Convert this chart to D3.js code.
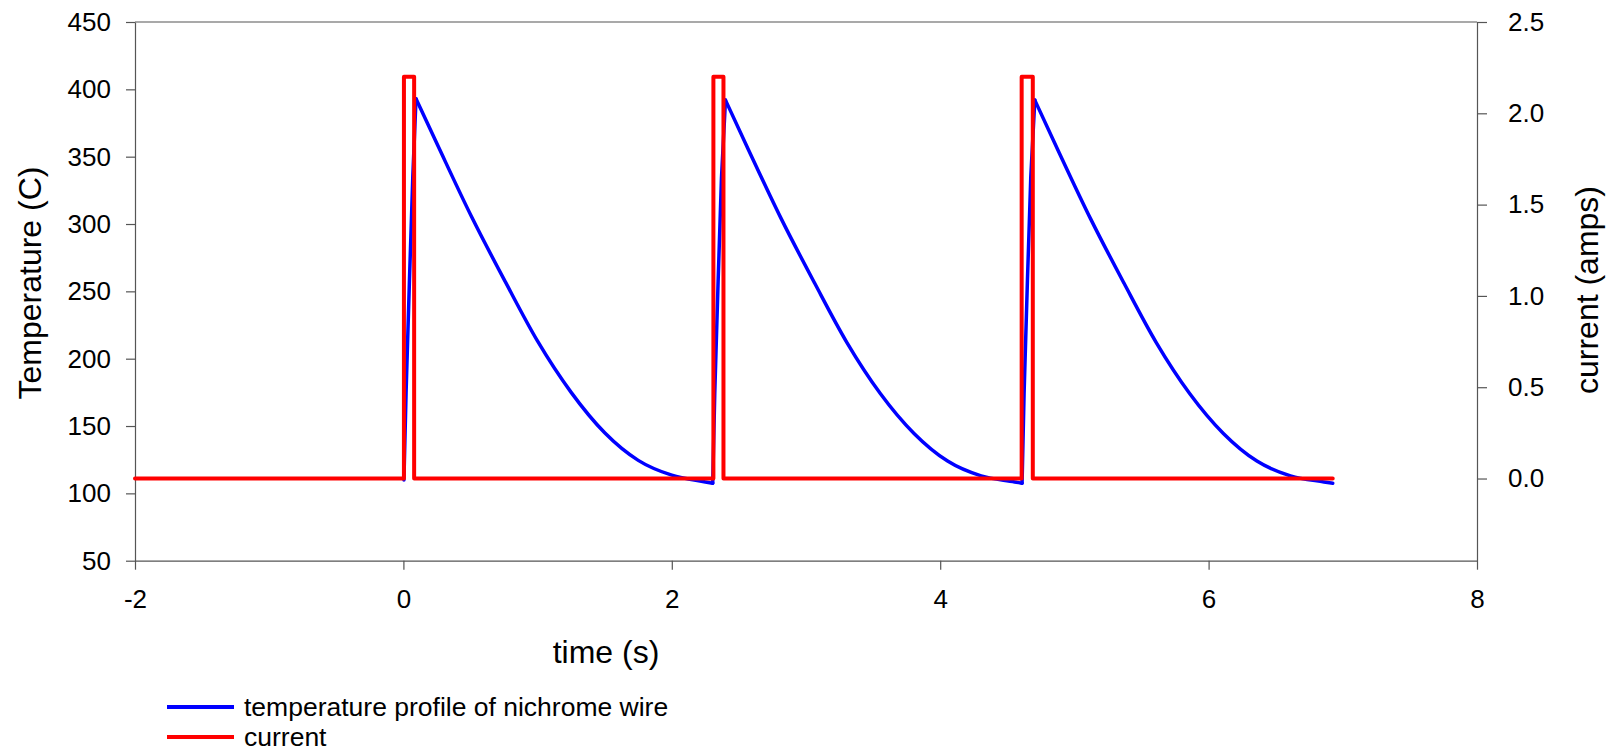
<html>
  <head>
    <meta charset="utf-8">
    <script src="https://d3js.org/d3.v7.min.js"></script>
    <style>
body {
  margin: 0;
  background: #fff;
  font-family: "Liberation Sans", Arial, sans-serif;
}
.axis path, .axis line {
  stroke: #555;
  stroke-width: 1.2;
}
.axis text {
  font-size: 26px;
  fill: #000;
  font-family: "Liberation Sans", Arial, sans-serif;
}
.title {
  font-size: 32px;
}
.legend text {
  font-size: 26.5px;
}
.line {
  fill: none;
  stroke-linejoin: round;
  stroke-linecap: round;
}
    </style>
  </head>
  <body>
    <div id="chart"></div>
<script>
// temperature of the wire (C) against time (s)
var tempTime = [
  0.004, 0.02, 0.045, 0.07, 0.094, 0.26, 0.51, 0.76, 1.00, 1.25, 1.50, 1.75, 2.00, 2.25, 2.305,
  2.32, 2.345, 2.37, 2.40, 2.565, 2.815, 3.065, 3.305, 3.555, 3.805, 4.055, 4.305, 4.555, 4.61,
  4.625, 4.65, 4.675, 4.705, 4.87, 5.12, 5.37, 5.61, 5.86, 6.11, 6.36, 6.61, 6.86, 6.925
];
var tempValue = [
  110, 175, 258, 335, 393, 357.5, 305, 257, 213, 175, 145, 124.5, 113.5, 108.5, 107.5,
  174, 257, 334, 392, 356.5, 304, 256, 212, 174, 144.5, 124, 113, 108.5, 107.5,
  174, 258, 335, 392, 356.5, 304, 256, 212, 174, 144.5, 124, 113, 108.5, 107.5
];
// current pulses (amps)
var currentTime = [-2, 0.004, 0.004, 0.08, 0.08, 2.31, 2.31, 2.385, 2.385, 4.607, 4.607, 4.69, 4.69, 6.925];
var currentValue = [0, 0, 2.2, 2.2, 0, 0, 2.2, 2.2, 0, 0, 2.2, 2.2, 0, 0];

var xTicks = [-2, 0, 2, 4, 6, 8];
var tempTicks = [50, 100, 150, 200, 250, 300, 350, 400, 450];
var currentTicks = [0, 0.5, 1.0, 1.5, 2.0, 2.5];

var width = 1611;
var height = 753;
var plotLeft = 135, plotRight = 1477, plotTop = 22, plotBottom = 560.7;

var tempData = tempTime.map((t, i) => ({t: t, v: tempValue[i]}));
var currentData = currentTime.map((t, i) => ({t: t, v: currentValue[i]}));

// split the temperature trace into heating (rise) and cooling (decay) pieces
var pieces = [];
var start = 0;
for (var i = 1; i < tempData.length; i++) {
  var last = i === tempData.length - 1;
  var turn = !last && ((tempData[i].v - tempData[i - 1].v) * (tempData[i + 1].v - tempData[i].v) < 0);
  if (turn || last) {
    var seg = tempData.slice(start, i + 1);
    pieces.push({rise: seg[seg.length - 1].v > seg[0].v, values: seg});
    start = i;
  }
}

/* Scales */
var xScale = d3.scaleLinear().domain([-2, 8]).range([plotLeft, plotRight]);
var yTemp = d3.scaleLinear().domain([50, 450]).range([plotBottom, plotTop]);
var yCurrent = d3.scaleLinear().domain([-0.45, 2.5]).range([plotBottom, plotTop]);

var svg = d3.select("#chart").append("svg")
  .attr("width", width)
  .attr("height", height);

/* frame top */
svg.append("line")
  .attr("x1", plotLeft).attr("x2", plotRight)
  .attr("y1", plotTop).attr("y2", plotTop)
  .attr("stroke", "#555")
  .attr("stroke-width", 1.2);

/* Axes */
svg.append("g")
  .attr("class", "x axis")
  .attr("transform", `translate(0, ${plotBottom})`)
  .call(d3.axisBottom(xScale).tickValues(xTicks).tickFormat(d => String(d))
    .tickSize(9).tickSizeOuter(0).tickPadding(20));

svg.append("g")
  .attr("class", "y axis")
  .attr("transform", `translate(${plotLeft}, 0)`)
  .call(d3.axisLeft(yTemp).tickValues(tempTicks).tickFormat(d => String(d))
    .tickSize(9).tickSizeOuter(0).tickPadding(15));

svg.append("g")
  .attr("class", "y2 axis")
  .attr("transform", `translate(${plotRight}, 0)`)
  .call(d3.axisRight(yCurrent).tickValues(currentTicks).tickFormat(d => d.toFixed(1))
    .tickSize(10).tickSizeOuter(0).tickPadding(21));

/* Axis titles */
svg.append("text")
  .attr("class", "title")
  .attr("x", 606).attr("y", 652)
  .attr("text-anchor", "middle")
  .attr("dominant-baseline", "central")
  .text("time (s)");

svg.append("text")
  .attr("class", "title")
  .attr("transform", "translate(30, 283) rotate(-90)")
  .attr("text-anchor", "middle")
  .attr("dominant-baseline", "central")
  .text("Temperature (C)");

svg.append("text")
  .attr("class", "title")
  .attr("transform", "translate(1587, 290) rotate(-90)")
  .attr("text-anchor", "middle")
  .attr("dominant-baseline", "central")
  .text("current (amps)");

/* Lines */
var riseLine = d3.line()
  .x(d => xScale(d.t))
  .y(d => yTemp(d.v));

var decayLine = d3.line()
  .x(d => xScale(d.t))
  .y(d => yTemp(d.v))
  .curve(d3.curveMonotoneX);

var currentLine = d3.line()
  .x(d => xScale(d.t))
  .y(d => yCurrent(d.v));

svg.append("g")
  .selectAll("path")
  .data(pieces).enter()
  .append("path")
  .attr("class", "line")
  .attr("d", d => d.rise ? riseLine(d.values) : decayLine(d.values))
  .style("stroke", "#0000ff")
  .style("stroke-width", 3.5);

svg.append("path")
  .attr("class", "line")
  .attr("d", currentLine(currentData))
  .style("stroke", "#ff0000")
  .style("stroke-width", 4);

/* Legend */
var legendItems = [
  {name: "temperature profile of nichrome wire", color: "#0000ff", y: 707},
  {name: "current", color: "#ff0000", y: 737}
];
var legend = svg.append("g").attr("class", "legend");
legend.selectAll("line")
  .data(legendItems).enter()
  .append("line")
  .attr("x1", 167).attr("x2", 234)
  .attr("y1", d => d.y).attr("y2", d => d.y)
  .attr("stroke", d => d.color)
  .attr("stroke-width", 4);
legend.selectAll("text")
  .data(legendItems).enter()
  .append("text")
  .attr("x", 244)
  .attr("y", d => d.y)
  .attr("dominant-baseline", "central")
  .text(d => d.name);
</script>
  </body>
</html>
